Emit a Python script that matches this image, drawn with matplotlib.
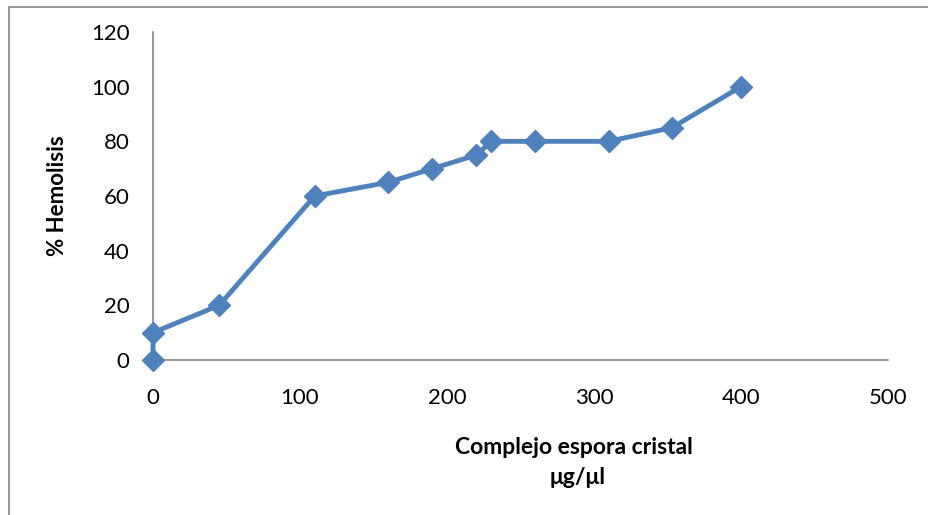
import matplotlib.pyplot as plt
from matplotlib.patches import Rectangle

# concentracion (ug/ul) y % hemolisis
concentracion = [0, 0, 45, 110, 160, 190, 220, 230, 260, 310, 353, 400]
hemolisis = [0, 10, 20, 60, 65, 70, 75, 80, 80, 80, 85, 100]

x_ticks = [0, 100, 200, 300, 400, 500]
y_ticks = [0, 20, 40, 60, 80, 100, 120]

plt.rcParams["font.family"] = ["Lato", "DejaVu Sans"]

W, H = 929, 515
fig = plt.figure(figsize=(W / 100, H / 100), dpi=100)
ax = fig.add_axes([153 / W, 1 - 360 / H, (888 - 153) / W, (360 - 32) / H])

ax.plot(concentracion, hemolisis, color="#4F81BD", linewidth=3.5,
        marker="D", markersize=11, markeredgecolor="#4F81BD",
        markerfacecolor="#4F81BD", clip_on=False, zorder=3)

ax.set_xlim(0, 500)
ax.set_ylim(0, 120)
ax.set_xticks(x_ticks)
ax.set_yticks(y_ticks)
ax.tick_params(length=0, labelsize=16, colors="black")
ax.tick_params(axis="y", pad=17)
ax.tick_params(axis="x", pad=20)

for side in ["top", "right"]:
    ax.spines[side].set_visible(False)
for side in ["left", "bottom"]:
    ax.spines[side].set_color("#868686")
    ax.spines[side].set_linewidth(1.2)

fig.text(58 / W, 1 - 196 / H, "% Hemolisis", rotation=90, fontsize=16,
         fontweight="bold", ha="center", va="center")
fig.text(574 / W, 1 - 447 / H, "Complejo espora cristal", fontsize=16.5,
         fontweight="bold", ha="center", va="center")
fig.text(578 / W, 1 - 478 / H, "\u03bcg/\u03bcl", fontsize=16.5,
         fontweight="bold", ha="center", va="center")

# marco exterior del grafico
fig.patches.append(Rectangle((9 / W, -0.05), 1.0, 1 - 7 / H + 0.05,
                             transform=fig.transFigure, fill=False,
                             edgecolor="#868686", linewidth=1.2))

fig.savefig("out.png", dpi=100)
